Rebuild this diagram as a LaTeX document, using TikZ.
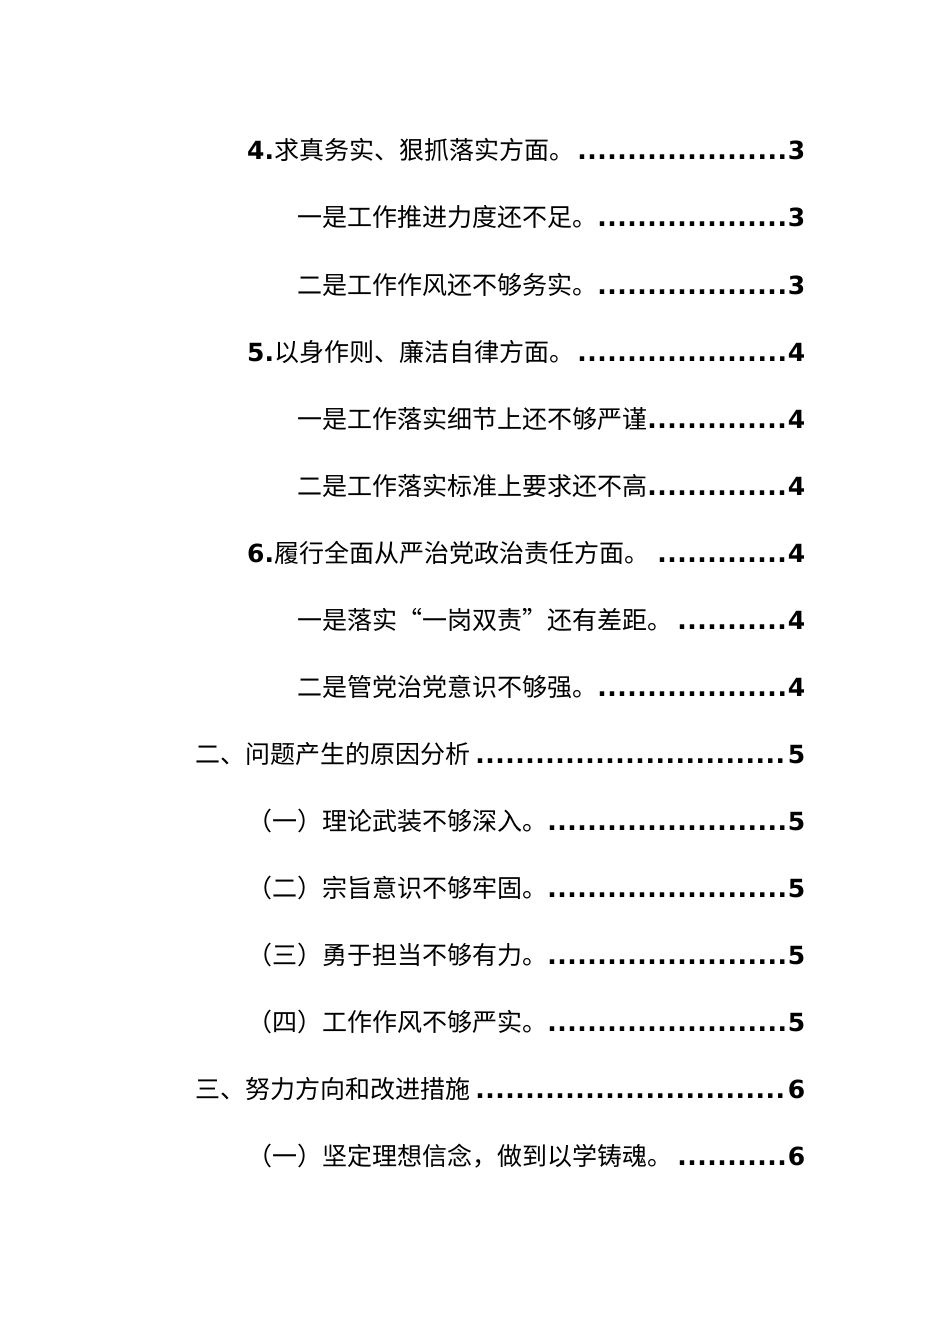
\documentclass[tikz,border=0pt]{standalone}
\usepackage{fontspec}
\setmainfont{DejaVu Sans}
\newfontfamily\cjk{Noto Sans CJK SC}
\newcommand\tocl[5]{%
  \node[anchor=west,inner sep=0pt] (#1) at (#2,#3) {\fontsize{25}{25}\selectfont
    \hbox to \dimexpr 805pt-#2pt\relax{\bfseries #4\leaders\hbox to 10pt{\hss.\hss}\hfill #5}};}
\begin{document}
\begin{tikzpicture}[x=1pt,y=-1pt]
\useasboundingbox (0,0) rectangle (950,1344);
\fill[white] (0,0) rectangle (950,1344);
\tocl{l1}{247}{150}{4.{\mdseries\cjk 求真务实、狠抓落实方面。}}{3}
\tocl{l2}{297}{217}{{\mdseries\cjk 一是工作推进力度还不足。}}{3}
\tocl{l3}{297}{285}{{\mdseries\cjk 二是工作作风还不够务实。}}{3}
\tocl{l4}{247}{352}{5.{\mdseries\cjk 以身作则、廉洁自律方面。}}{4}
\tocl{l5}{297}{419}{{\mdseries\cjk 一是工作落实细节上还不够严谨}}{4}
\tocl{l6}{297}{486}{{\mdseries\cjk 二是工作落实标准上要求还不高}}{4}
\tocl{l7}{247}{553}{6.{\mdseries\cjk 履行全面从严治党政治责任方面。}}{4}
\tocl{l8}{297}{620}{{\mdseries\cjk 一是落实“一岗双责”还有差距。}}{4}
\tocl{l9}{297}{687}{{\mdseries\cjk 二是管党治党意识不够强。}}{4}
\tocl{l10}{195}{754}{{\mdseries\cjk 二、问题产生的原因分析}}{5}
\tocl{l11}{247}{821}{{\mdseries\cjk （一）理论武装不够深入。}}{5}
\tocl{l12}{247}{888}{{\mdseries\cjk （二）宗旨意识不够牢固。}}{5}
\tocl{l13}{247}{955}{{\mdseries\cjk （三）勇于担当不够有力。}}{5}
\tocl{l14}{247}{1022}{{\mdseries\cjk （四）工作作风不够严实。}}{5}
\tocl{l15}{195}{1089}{{\mdseries\cjk 三、努力方向和改进措施}}{6}
\tocl{l16}{247}{1156}{{\mdseries\cjk （一）坚定理想信念，做到以学铸魂。}}{6}
\end{tikzpicture}
\end{document}
